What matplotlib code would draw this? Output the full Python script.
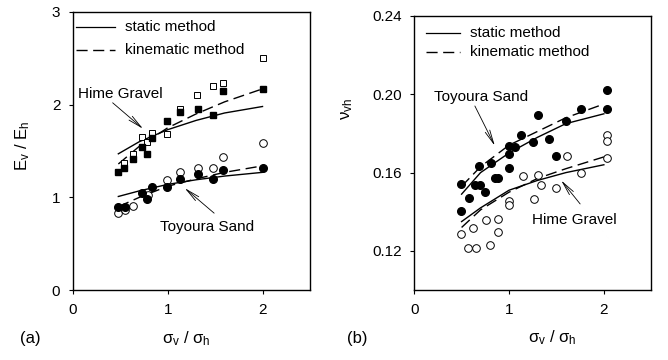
import matplotlib
matplotlib.use("Agg")
import matplotlib.pyplot as plt

plt.rcParams['font.family'] = ['Liberation Sans', 'DejaVu Sans']
plt.rcParams['mathtext.fontset'] = 'custom'
plt.rcParams['mathtext.rm'] = 'Liberation Sans'
plt.rcParams['mathtext.it'] = 'Liberation Sans'

# ---------------- Panel (a): Ev/Eh ----------------
hime_open_x = [0.54, 0.63, 0.73, 0.78, 0.83, 0.99, 1.13, 1.31, 1.48, 1.58, 2.0]
hime_open_y = [1.37, 1.47, 1.65, 1.60, 1.69, 1.68, 1.95, 2.10, 2.20, 2.23, 2.50]
hime_fill_x = [0.48, 0.54, 0.63, 0.73, 0.78, 0.83, 0.99, 1.13, 1.32, 1.48, 1.58, 2.0]
hime_fill_y = [1.27, 1.32, 1.41, 1.54, 1.47, 1.64, 1.82, 1.92, 1.95, 1.89, 2.15, 2.17]
toy_open_x = [0.48, 0.55, 0.63, 0.79, 0.99, 1.13, 1.32, 1.48, 1.58, 2.0]
toy_open_y = [0.83, 0.86, 0.91, 1.03, 1.19, 1.27, 1.32, 1.32, 1.44, 1.59]
toy_fill_x = [0.48, 0.55, 0.73, 0.78, 0.83, 0.99, 1.13, 1.32, 1.48, 1.58, 2.0]
toy_fill_y = [0.90, 0.90, 1.05, 0.98, 1.11, 1.11, 1.20, 1.25, 1.20, 1.30, 1.32]

curve_x = [0.48, 0.7, 1.0, 1.3, 1.6, 2.0]
hime_static_y = [1.47, 1.60, 1.73, 1.83, 1.91, 1.98]
hime_kin_y = [1.36, 1.55, 1.75, 1.90, 2.03, 2.17]
toy_static_y = [1.01, 1.07, 1.14, 1.19, 1.23, 1.27]
toy_kin_y = [0.90, 1.00, 1.12, 1.20, 1.27, 1.34]

# ---------------- Panel (b): nu_vh ----------------
toyb_fill_x = [0.49, 0.49, 0.58, 0.64, 0.69, 0.68, 0.75, 0.81, 0.85, 0.88, 1.00, 1.00, 1.00,
               1.06, 1.13, 1.25, 1.31, 1.42, 1.50, 1.60, 1.76, 2.03, 2.03]
toyb_fill_y = [0.1542, 0.1405, 0.1468, 0.1537, 0.1537, 0.1634, 0.1502, 0.1647, 0.1574, 0.1574,
               0.1736, 0.1695, 0.1622, 0.1732, 0.179, 0.1754, 0.1894, 0.177, 0.1686, 0.1863,
               0.1926, 0.2022, 0.1926]
himeb_open_x = [0.49, 0.57, 0.62, 0.65, 0.76, 0.80, 0.88, 0.88, 1.00, 1.00, 1.15, 1.26, 1.31,
                1.34, 1.50, 1.61, 1.76, 2.03, 2.03, 2.03]
himeb_open_y = [0.1286, 0.1213, 0.1315, 0.1213, 0.1358, 0.1233, 0.1361, 0.1298, 0.1455, 0.1434,
                0.1584, 0.1463, 0.1588, 0.1537, 0.152, 0.1686, 0.1596, 0.1792, 0.1761, 0.1676]

curveb_x = [0.5, 0.7, 1.0, 1.3, 1.6, 2.0]
toyb_static_y = [0.149, 0.160, 0.170, 0.178, 0.185, 0.190]
toyb_kin_y = [0.153, 0.163, 0.174, 0.181, 0.188, 0.195]
himeb_static_y = [0.135, 0.142, 0.151, 0.156, 0.160, 0.164]
himeb_kin_y = [0.132, 0.141, 0.150, 0.157, 0.162, 0.168]

xticks = [0, 1, 2]
yticks_a = [0, 1, 2, 3]
yticks_b = [0.12, 0.16, 0.20, 0.24]
yticklabels_b = ['0.12', '0.16', '0.20', '0.24']

FS = 11
DASH = (0, (8, 4))

fig = plt.figure(figsize=(6.68, 3.60), dpi=100)
ax1 = fig.add_axes([0.109, 0.194, 0.355, 0.773])
ax2 = fig.add_axes([0.620, 0.194, 0.355, 0.762])

ms_sq = 5
ms_c = 5.5
for ax in (ax1, ax2):
    for s in ax.spines.values():
        s.set_linewidth(1.0)
    ax.tick_params(direction='out', length=3, width=0.8, labelsize=FS, pad=6)
    ax.set_xlim(0, 2.5)
    ax.set_xticks(xticks)

# panel (a)
ax1.plot(curve_x, hime_static_y, '-', color='black', lw=1.0)
ax1.plot(curve_x, hime_kin_y, color='black', lw=1.0, ls=DASH)
ax1.plot(curve_x, toy_static_y, '-', color='black', lw=1.0)
ax1.plot(curve_x, toy_kin_y, color='black', lw=1.0, ls=DASH)
ax1.plot(hime_open_x, hime_open_y, 's', mfc='white', mec='black', mew=0.7, ms=ms_sq, ls='none')
ax1.plot(hime_fill_x, hime_fill_y, 's', mfc='black', mec='black', ms=ms_sq, ls='none')
ax1.plot(toy_open_x, toy_open_y, 'o', mfc='white', mec='black', mew=0.7, ms=ms_c, ls='none')
ax1.plot(toy_fill_x, toy_fill_y, 'o', mfc='black', mec='black', ms=ms_c, ls='none')
ax1.set_ylim(0, 3)
ax1.set_yticks(yticks_a)
ax1.set_ylabel(r'E$_\mathregular{v}$ / E$_\mathregular{h}$', fontsize=FS + 1)
ax1.set_xlabel(r'$\sigma_\mathregular{v}$ / $\sigma_\mathregular{h}$', fontsize=FS + 1)
ax1.yaxis.set_label_coords(-0.17, 0.52)
ax1.xaxis.set_label_coords(0.48, -0.14)

# legend (a)
ax1.plot([0.03, 0.44], [2.84, 2.84], '-', color='black', lw=0.9)
ax1.plot([0.03, 0.44], [2.59, 2.59], color='black', lw=1.0, ls=DASH)
ax1.text(0.55, 2.84, 'static method', fontsize=FS, va='center')
ax1.text(0.55, 2.59, 'kinematic method', fontsize=FS, va='center')

arrow = dict(arrowstyle='->,head_length=1.0,head_width=0.18', color='black', lw=0.6, shrinkA=0, shrinkB=0)
ax1.text(0.05, 2.11, 'Hime Gravel', fontsize=FS, va='center', ha='left')
ax1.annotate('', xy=(0.74, 1.74), xytext=(0.42, 2.02), arrowprops=arrow)
ax1.text(1.42, 0.68, 'Toyoura Sand', fontsize=FS, va='center', ha='center')
ax1.annotate('', xy=(1.18, 1.10), xytext=(1.49, 0.83), arrowprops=arrow)

# panel (b)
ax2.plot(curveb_x, toyb_static_y, '-', color='black', lw=1.0)
ax2.plot(curveb_x, toyb_kin_y, color='black', lw=1.0, ls=DASH)
ax2.plot(curveb_x, himeb_static_y, '-', color='black', lw=1.0)
ax2.plot(curveb_x, himeb_kin_y, color='black', lw=1.0, ls=DASH)
ax2.plot(toyb_fill_x, toyb_fill_y, 'o', mfc='black', mec='black', ms=ms_c, ls='none')
ax2.plot(himeb_open_x, himeb_open_y, 'o', mfc='white', mec='black', mew=0.7, ms=ms_c, ls='none')
ax2.set_ylim(0.10, 0.24)
ax2.set_yticks(yticks_b)
ax2.set_yticklabels(yticklabels_b)
ax2.set_ylabel(r'$\nu_\mathregular{vh}$', fontsize=FS + 1)
ax2.set_xlabel(r'$\sigma_\mathregular{v}$ / $\sigma_\mathregular{h}$', fontsize=FS + 1)
ax2.yaxis.set_label_coords(-0.25, 0.66)
ax2.xaxis.set_label_coords(0.58, -0.14)

ax2.plot([0.13, 0.48], [0.2312, 0.2312], '-', color='black', lw=0.9)
ax2.plot([0.13, 0.48], [0.2216, 0.2216], color='black', lw=1.0, ls=DASH)
ax2.text(0.59, 0.2312, 'static method', fontsize=FS, va='center')
ax2.text(0.59, 0.2216, 'kinematic method', fontsize=FS, va='center')

ax2.text(0.71, 0.1987, 'Toyoura Sand', fontsize=FS, va='center', ha='center')
ax2.annotate('', xy=(0.85, 0.1737), xytext=(0.64, 0.194), arrowprops=arrow)
ax2.text(1.69, 0.1358, 'Hime Gravel', fontsize=FS, va='center', ha='center')
ax2.annotate('', xy=(1.55, 0.156), xytext=(1.75, 0.144), arrowprops=arrow)

fig.text(0.045, 0.06, '(a)', fontsize=FS + 1, ha='center', va='center')
fig.text(0.535, 0.06, '(b)', fontsize=FS + 1, ha='center', va='center')

fig.savefig('out.png', dpi=100)
